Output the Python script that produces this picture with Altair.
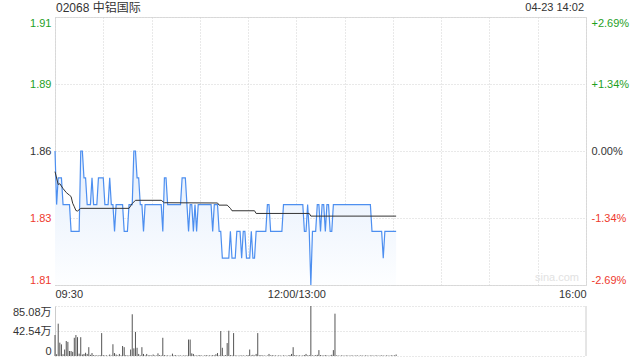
import altair as alt
import pandas as pd

title_text = "02068 中铝国际"
time_text = "04-23 14:02"
watermark_text = "sina.com"
prev_close = 1.86

price = [
    1.86, 1.84, 1.85, 1.85, 1.85, 1.84, 1.84, 1.84, 1.84, 1.84,
    1.83, 1.83, 1.83, 1.83, 1.83, 1.83, 1.86, 1.86, 1.85, 1.85,
    1.84, 1.84, 1.84, 1.85, 1.84, 1.84, 1.84, 1.85, 1.85, 1.85,
    1.85, 1.84, 1.84, 1.84, 1.85, 1.84, 1.84, 1.83, 1.84, 1.84,
    1.84, 1.84, 1.84, 1.83, 1.83, 1.83, 1.84, 1.84, 1.84, 1.86,
    1.86, 1.85, 1.85, 1.84, 1.84, 1.83, 1.84, 1.84, 1.84, 1.84,
    1.84, 1.84, 1.84, 1.84, 1.84, 1.84, 1.84, 1.83, 1.85, 1.85,
    1.84, 1.84, 1.84, 1.84, 1.84, 1.84, 1.84, 1.84, 1.84, 1.85,
    1.85, 1.85, 1.84, 1.83, 1.84, 1.84, 1.83, 1.84, 1.83, 1.84,
    1.84, 1.84, 1.84, 1.84, 1.84, 1.84, 1.84, 1.84, 1.83, 1.84,
    1.84, 1.84, 1.83, 1.83, 1.82, 1.82, 1.82, 1.82, 1.82, 1.83,
    1.82, 1.82, 1.82, 1.83, 1.83, 1.83, 1.82, 1.83, 1.83, 1.82,
    1.82, 1.82, 1.83, 1.82, 1.82, 1.83, 1.83, 1.83, 1.83, 1.83,
    1.83, 1.83, 1.84, 1.84, 1.83, 1.83, 1.83, 1.83, 1.83, 1.83,
    1.83, 1.83, 1.84, 1.84, 1.84, 1.84, 1.84, 1.84, 1.84, 1.84,
    1.84, 1.84, 1.84, 1.84, 1.84, 1.83, 1.83, 1.84, 1.83, 1.81,
    1.83, 1.83, 1.83, 1.84, 1.84, 1.83, 1.84, 1.84, 1.83, 1.84,
    1.84, 1.83, 1.83, 1.84, 1.84, 1.84, 1.84, 1.84, 1.84, 1.84,
    1.84, 1.84, 1.84, 1.84, 1.84, 1.84, 1.84, 1.84, 1.84, 1.84,
    1.84, 1.84, 1.84, 1.84, 1.84, 1.84, 1.84, 1.83, 1.83, 1.83,
    1.83, 1.83, 1.83, 1.83, 1.82, 1.83, 1.83, 1.83, 1.83, 1.83,
    1.83, 1.83, 1.83,
]

# volume in 万 shares per minute
volume = [
    35.7, 3, 55, 22.7, 19.8, 3, 11, 25.5, 24, 8.5,
    8.5, 7, 31, 35.7, 32, 4, 32, 2.5, 3.5, 5.5,
    3.5, 15, 2, 5, 1.5, 1, 1.2, 0.8, 1.5, 39,
    1.5, 0.8, 1, 0.5, 2.5, 0.8, 20, 5, 2.5, 1,
    3.5, 1, 17, 15, 1.5, 0.8, 1, 11, 71, 13,
    41, 14, 3.5, 1, 15, 3.5, 1, 3.5, 1, 1.5,
    0.8, 2.5, 1, 0.8, 4.5, 1.5, 1, 31, 1.5, 0.8,
    1, 0.5, 0.8, 4, 1, 1.5, 0.5, 1, 0.8, 0.5,
    1, 0.8, 1, 28, 28, 4.5, 3.5, 1, 0.8, 1,
    1.5, 0.8, 0.5, 1, 1.5, 0.8, 1, 0.8, 1.5, 1,
    3, 5, 1, 42.5, 14, 1, 1.5, 22, 43, 1.5,
    1, 39, 1, 0.8, 0.5, 1, 0.8, 1, 0.5, 1,
    1.5, 11, 1, 2, 0.8, 3.5, 39, 1, 1.5, 0.8,
    1, 0.5, 0.8, 3.5, 1, 1.5, 0.8, 1, 0.5, 1,
    0.8, 0.5, 1, 0.8, 0.5, 1, 1.5, 3.5, 15, 1.5,
    1, 0.8, 1, 0.5, 1, 1.5, 3.5, 1, 1.5, 85.08,
    1, 0.8, 1.5, 2, 10, 1.5, 1, 0.8, 1.5, 1,
    0.5, 1, 2, 10, 72, 1, 0.8, 0.5, 1, 0.8,
    0.5, 1, 0.8, 0.5, 1, 0.8, 0.5, 1, 0.8, 0.5,
    1, 0.8, 0.5, 1, 0.8, 0.5, 0.8, 1, 0.5, 0.8,
    1, 0.5, 0.8, 1, 0.8, 0.5, 1, 0.8, 0.5, 1.2,
    0.8, 1, 2.5,
]

avg_minutes = [0, 2, 3, 5, 7, 9, 10, 11, 12, 13, 14, 16, 46, 48, 50, 66, 68,
               101, 102, 107, 109, 110, 124, 125, 158, 159, 212]
avg_prices = [1.8523, 1.8475, 1.8478, 1.846, 1.8445, 1.8435, 1.843, 1.8405,
              1.8392, 1.8378, 1.8376, 1.8386, 1.8386, 1.8404, 1.8416, 1.8416,
              1.8407, 1.8406, 1.8398, 1.8398, 1.8386, 1.8377, 1.8377, 1.8367,
              1.8367, 1.8357, 1.8357]

price_ticks = [1.81, 1.835, 1.86, 1.885, 1.91]
vol_ticks = [0, 42.54, 85.08]
session_minutes = 330
x_grid_minutes = [0, 30, 60, 90, 120, 150, 180, 210, 240, 270, 300, 330]
x_label_minutes = [0, 150, 330]
x_label_text = ["09:30", "12:00/13:00", "16:00"]

FONT = "Liberation Sans, Arial, 'Noto Sans CJK SC', sans-serif"
GREEN = "#1ea01e"
RED = "#ee3a2e"
DARK = "#333333"
BLUE = "#4d8ff0"
GRID = "#d2d2d2"
BORDER = "#cccccc"

df = pd.DataFrame({"m": list(range(len(price))), "price": price, "vol": volume})
avg_df = pd.DataFrame({"m": avg_minutes, "avg": avg_prices})

x_label_expr = " : ".join(
    f"datum.value == {m} ? '{t}'" for m, t in zip(x_label_minutes, x_label_text)
) + " : ''"

x_scale = alt.Scale(domain=[0, session_minutes], nice=False, zero=False)
y_scale = alt.Scale(domain=[price_ticks[0], price_ticks[-1]], nice=False, zero=False)

common_axis = dict(ticks=False, domain=False, grid=True, gridColor=GRID,
                   gridDash=[1, 2], labelFont=FONT, labelFontSize=11,
                   title=None, labelFlush=True, labelOverlap=False)

x_enc = alt.X("m:Q", scale=x_scale,
              axis=alt.Axis(values=x_grid_minutes, labelExpr=x_label_expr,
                            labelColor=DARK, labelPadding=3, **common_axis))

left_color = {"condition": [
    {"test": f"datum.value > {prev_close} + 0.0001", "value": GREEN},
    {"test": f"datum.value < {prev_close} - 0.0001", "value": RED}],
    "value": DARK}

gradient = alt.Gradient(
    gradient="linear",
    stops=[alt.GradientStop(color="#e4eefc", offset=0),
           alt.GradientStop(color="#fdfeff", offset=1)],
    x1=1, x2=1, y1=0, y2=1)

area = alt.Chart(df).mark_area(color=gradient).encode(
    x=x_enc,
    y=alt.Y("price:Q", scale=y_scale,
            axis=alt.Axis(values=price_ticks, format=".2f", labelColor=left_color,
                          labelPadding=4, **common_axis)),
    y2=alt.datum(price_ticks[0]),
)

pct_expr = (f"(datum.value > {prev_close} + 0.0001 ? '+' : datum.value < {prev_close} - 0.0001 ? '-' : '')"
            f" + format(abs(datum.value - {prev_close}) / {prev_close}, '.2%')")

line = alt.Chart(df).mark_line(color=BLUE, strokeWidth=1.2).encode(
    x=alt.X("m:Q", scale=x_scale),
    y=alt.Y("price:Q", scale=y_scale,
            axis=alt.Axis(orient="right", values=price_ticks, labelExpr=pct_expr,
                          labelColor=left_color, labelPadding=5,
                          **{**common_axis, "grid": False})),
)

avg_line = alt.Chart(avg_df).mark_line(color=DARK, strokeWidth=1).encode(
    x=alt.X("m:Q", scale=x_scale),
    y=alt.Y("avg:Q", scale=y_scale, axis=None),
)

title_df = pd.DataFrame({"t": [title_text]})
time_df = pd.DataFrame({"t": [time_text]})
wm_df = pd.DataFrame({"t": [watermark_text]})

title_mark = alt.Chart(title_df).mark_text(
    align="left", baseline="middle", font=FONT, fontSize=12, color=DARK
).encode(text="t:N", x=alt.value(1), y=alt.value(-9))

time_mark = alt.Chart(time_df).mark_text(
    align="right", baseline="middle", font=FONT, fontSize=11, color=DARK
).encode(text="t:N", x=alt.value(529), y=alt.value(-9))

wm_mark = alt.Chart(wm_df).mark_text(
    align="right", baseline="middle", font=FONT, fontSize=11, color="#e2e2e2"
).encode(text="t:N", x=alt.value(524), y=alt.value(261))

price_chart = alt.layer(area, line, avg_line, title_mark, time_mark, wm_mark).resolve_axis(
    y="independent").properties(width=531, height=268)

vol_bars = alt.Chart(df).mark_rule(color="#555555", strokeWidth=1).encode(
    x=alt.X("m:Q", scale=x_scale, axis=None),
    y=alt.Y("vol:Q", scale=alt.Scale(domain=[0, vol_ticks[-1]], nice=False),
            axis=alt.Axis(values=vol_ticks,
                          labelExpr="datum.value == 0 ? '0' : format(datum.value, '.2f') + '万'",
                          labelColor=DARK, labelPadding=4,
                          **{**common_axis, "domain": True, "domainColor": BORDER})),
    y2=alt.datum(0),
)

edge_df = pd.DataFrame({"edge": [session_minutes]})
right_edge = alt.Chart(edge_df).mark_rule(color=BORDER).encode(
    x=alt.X("edge:Q", scale=x_scale, axis=None))

vol_chart = alt.layer(vol_bars, right_edge).properties(
    width=531, height=50, view=alt.ViewBackground(stroke="transparent"))

chart = alt.vconcat(price_chart, vol_chart, spacing=21, bounds="flush").properties(
    autosize=alt.AutoSizeParams(type="pad"),
    padding={"left": 11, "top": 1, "right": 0, "bottom": 0},
).configure_view(stroke=BORDER).configure(background="white")

chart.save("out.html", embed_options={"renderer": "svg", "actions": False})
